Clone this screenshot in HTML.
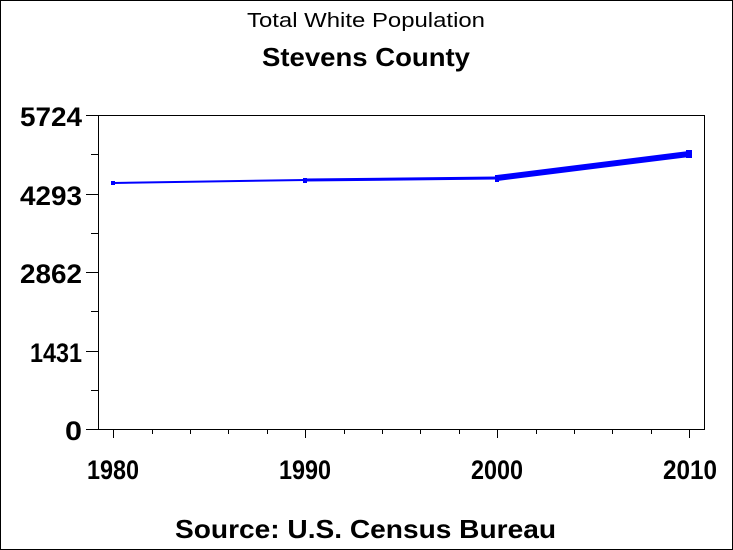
<!DOCTYPE html>
<html><head><style>body{margin:0}svg{display:block}</style></head><body>
<svg width="733" height="550" xmlns="http://www.w3.org/2000/svg" font-family="Liberation Sans, Arial, sans-serif">
<rect x="0.5" y="0.5" width="732" height="549" fill="#fff" stroke="#000"/>
<text x="247" y="27" font-size="20" textLength="238" lengthAdjust="spacingAndGlyphs">Total White Population</text>
<text x="262" y="66" font-size="26" font-weight="bold" textLength="208" lengthAdjust="spacingAndGlyphs">Stevens County</text>
<rect x="98.5" y="115.5" width="606" height="314" fill="none" stroke="#000"/>
<g stroke="#000" stroke-width="1">
<line x1="86" y1="115.5" x2="98" y2="115.5"/><line x1="86" y1="194.5" x2="98" y2="194.5"/><line x1="86" y1="272.5" x2="98" y2="272.5"/><line x1="86" y1="351.5" x2="98" y2="351.5"/><line x1="86" y1="429.5" x2="98" y2="429.5"/>
<line x1="91" y1="154.5" x2="98" y2="154.5"/><line x1="91" y1="233.5" x2="98" y2="233.5"/><line x1="91" y1="311.5" x2="98" y2="311.5"/><line x1="91" y1="390.5" x2="98" y2="390.5"/>
<line x1="113.5" y1="429" x2="113.5" y2="438"/><line x1="305.5" y1="429" x2="305.5" y2="438"/><line x1="497.5" y1="429" x2="497.5" y2="438"/><line x1="689.5" y1="429" x2="689.5" y2="438"/>
<line x1="152.5" y1="429" x2="152.5" y2="434"/><line x1="190.5" y1="429" x2="190.5" y2="434"/><line x1="228.5" y1="429" x2="228.5" y2="434"/><line x1="267.5" y1="429" x2="267.5" y2="434"/>
<line x1="344.5" y1="429" x2="344.5" y2="434"/><line x1="382.5" y1="429" x2="382.5" y2="434"/><line x1="420.5" y1="429" x2="420.5" y2="434"/><line x1="459.5" y1="429" x2="459.5" y2="434"/>
<line x1="536.5" y1="429" x2="536.5" y2="434"/><line x1="574.5" y1="429" x2="574.5" y2="434"/><line x1="612.5" y1="429" x2="612.5" y2="434"/><line x1="651.5" y1="429" x2="651.5" y2="434"/>
</g>
<g font-size="27" font-weight="bold" lengthAdjust="spacingAndGlyphs">
<text x="20" y="126" textLength="62" lengthAdjust="spacingAndGlyphs">5724</text>
<text x="20" y="205" textLength="62" lengthAdjust="spacingAndGlyphs">4293</text>
<text x="20" y="283" textLength="62" lengthAdjust="spacingAndGlyphs">2862</text>
<text x="30" y="362" textLength="52" lengthAdjust="spacingAndGlyphs">1431</text>
<text x="65" y="440" textLength="17" lengthAdjust="spacingAndGlyphs">0</text>
</g>
<g font-size="27" font-weight="bold">
<text x="87" y="479" textLength="52" lengthAdjust="spacingAndGlyphs">1980</text>
<text x="279" y="479" textLength="52" lengthAdjust="spacingAndGlyphs">1990</text>
<text x="471" y="479" textLength="52" lengthAdjust="spacingAndGlyphs">2000</text>
<text x="663" y="479" textLength="54" lengthAdjust="spacingAndGlyphs">2010</text>
</g>
<g stroke="#0000ff" fill="none">
<line x1="113" y1="183" x2="305" y2="180" stroke-width="2"/>
<line x1="305" y1="180" x2="497" y2="178" stroke-width="3"/>
<line x1="497" y1="178" x2="689" y2="154" stroke-width="6"/>
</g>
<g fill="#0000ff"><rect x="111" y="181" width="4" height="4"/><rect x="303" y="178" width="4" height="5"/><rect x="495" y="175" width="4" height="7"/><rect x="686" y="150" width="6" height="8"/></g>
<text x="175" y="538" font-size="26" font-weight="bold" textLength="381" lengthAdjust="spacingAndGlyphs">Source: U.S. Census Bureau</text>
</svg>
</body></html>
